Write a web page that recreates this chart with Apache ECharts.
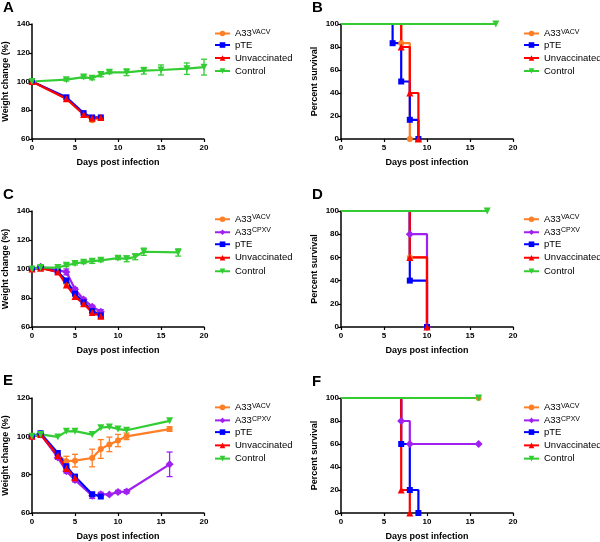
<!DOCTYPE html>
<html>
<head>
<meta charset="utf-8">
<title>Weight change and survival</title>
<script src="https://cdn.jsdelivr.net/npm/echarts@6/dist/echarts.min.js"></script>
<style>
  html, body { margin: 0; padding: 0; background: #fff; }
  #main { width: 600px; height: 542px; }
</style>
</head>
<body>
<div id="main"></div>
<script>
// ---- panel A: weight ----
var aDays = [0, 4, 6, 7, 8];
var aVacv = [100, 88, 77.5, 73, 75];
var aPte = [100, 89, 78, 75, 75];
var aUnvac = [100, 88, 77, 74.5, 75];
var aCtrlDays = [0, 4, 6, 7, 8, 9, 11, 13, 15, 18, 20];
var aCtrl = [100, 101.3, 103.1, 102.2, 104.8, 106.4, 106.4, 107.5, 108, 108.9, 110];
var aCtrlErr = [0, 1, 1, 1, 1.5, 1, 2.3, 2.3, 3.5, 4, 5.5];

// ---- panel B: survival ----
var bVacvX = [0, 7, 8], bVacvY = [100, 83.3, 0];
var bPteX = [0, 6, 7, 8, 9], bPteY = [100, 83.3, 50, 16.7, 0];
var bUnvacX = [0, 7, 8, 9], bUnvacY = [100, 80, 40, 0];
var bCtrlX = [0, 18], bCtrlY = [100, 100];

// ---- panel C: weight ----
var cDays = [0, 1, 3, 4, 5, 6, 7, 8];
var cVacv = [100, 101, 98.5, 90, 82, 77, 72, 68];
var cCpxv = [100, 101.5, 99, 98, 86, 79, 74, 70.5];
var cCpxvErr = [0, 0.5, 1, 2, 1, 1, 1, 1.5];
var cPte = [100, 101, 98, 92, 83, 77, 71, 68];
var cPteErr = [0, 0.5, 1, 1.5, 1, 1, 1, 2];
var cUnvac = [100, 100.5, 98, 89, 81, 76, 70, 67.5];
var cCtrlDays = [0, 1, 3, 4, 5, 6, 7, 8, 10, 11, 12, 13, 17];
var cCtrl = [100, 101, 101, 102.6, 103.8, 104.7, 105.4, 106, 107.5, 107, 108.4, 111.9, 111.4];
var cCtrlErr = [0, 1, 0.5, 1, 1, 1, 1.5, 1, 1, 2, 2, 2.5, 2.5];

// ---- panel D: survival ----
var dVacvX = [0, 8, 10], dVacvY = [100, 60, 0];
var dCpxvX = [0, 8, 10], dCpxvY = [100, 80, 0];
var dPteX = [0, 8, 10], dPteY = [100, 40, 0];
var dUnvacX = [0, 8, 10], dUnvacY = [100, 60, 0];
var dCtrlX = [0, 17], dCtrlY = [100, 100];

// ---- panel E: weight ----
var eDays = [0, 1, 3, 4, 5, 7, 8, 9, 10, 11, 16];
var eVacv = [100, 101, 90, 87, 87.3, 88.7, 93.4, 95.8, 97.8, 100, 103.8];
var eVacvErr = [0, 0.5, 1, 2.6, 3.3, 4.6, 4.9, 3.8, 3.2, 1.7, 1.2];
var eCpxv = [100, 101, 89, 81.8, 77.2, 69, 69.8, 69.6, 71, 71.2, 85.4];
var eCpxvErr = [0, 0.5, 1, 1, 1, 1.4, 1, 0.5, 0.8, 1, 6.4];
var ePteDays = [0, 1, 3, 4, 5, 7, 8];
var ePte = [100, 101.6, 91.3, 84.4, 79, 69.8, 68.6];
var eUnvacDays = [0, 1, 3, 4, 5];
var eUnvac = [100, 101, 90, 83.2, 78.4];
var eCtrl = [100, 101, 99.7, 102.6, 102.7, 100.9, 104.5, 104.9, 103.8, 103.2, 108.1];

// ---- panel F: survival ----
var fVacvX = [0, 16], fVacvY = [100, 100];
var fCpxvX = [0, 7, 8, 16], fCpxvY = [100, 80, 60, 60];
var fPteX = [0, 7, 8, 9], fPteY = [100, 60, 20, 0];
var fUnvacX = [0, 7, 8], fUnvacY = [100, 20, 0];
var fCtrlX = [0, 16], fCtrlY = [100, 100];

var legendAB = ['A33VACV', 'pTE', 'Unvaccinated', 'Control'];
var legendCF = ['A33VACV', 'A33CPXV', 'pTE', 'Unvaccinated', 'Control'];

var FONT = 'Liberation Sans, Arial, sans-serif';
var look = {
  'A33VACV': { color: '#ff7f27', symbol: 'circle', size: 6, rot: 0 },
  'A33CPXV': { color: '#a020f0', symbol: 'diamond', size: 8, rot: 0 },
  'pTE': { color: '#0000ff', symbol: 'rect', size: 6, rot: 0 },
  'Unvaccinated': { color: '#ff0000', symbol: 'triangle', size: 7, rot: 0 },
  'Control': { color: '#33cc33', symbol: 'triangle', size: 7, rot: 180 }
};

var grids = [
  { left: 31, top: 24, width: 173, height: 115 },
  { left: 341, top: 24, width: 172, height: 115 },
  { left: 31, top: 211, width: 173, height: 116 },
  { left: 341, top: 211, width: 172, height: 116 },
  { left: 31, top: 398, width: 173, height: 116 },
  { left: 341, top: 398, width: 172, height: 116 }
];

function xAx(gi) {
  return {
    type: 'value', gridIndex: gi, min: 0, max: 20, interval: 5,
    name: 'Days post infection', nameLocation: 'middle', nameGap: 19,
    nameTextStyle: { fontSize: 9, fontWeight: 'bold', color: '#000', fontFamily: FONT },
    axisLine: { show: true, onZero: false, lineStyle: { color: '#000', width: 1.5 } },
    axisTick: { show: true, length: 3, lineStyle: { color: '#000', width: 1.2 } },
    axisLabel: { fontSize: 8, fontWeight: 'bold', color: '#000', margin: 5, fontFamily: FONT },
    splitLine: { show: false }
  };
}
function yAx(gi, min, max, name) {
  return {
    type: 'value', gridIndex: gi, min: min, max: max, interval: 20,
    name: name, nameLocation: 'middle', nameGap: 22,
    nameTextStyle: { fontSize: 9, fontWeight: 'bold', color: '#000', fontFamily: FONT },
    axisLine: { show: true, onZero: false, lineStyle: { color: '#000', width: 1.5 } },
    axisTick: { show: true, length: 3, lineStyle: { color: '#000', width: 1.2 } },
    axisLabel: { fontSize: 8, fontWeight: 'bold', color: '#000', margin: 2, fontFamily: FONT },
    splitLine: { show: false }
  };
}

function pts(xs, ys, noFirst) {
  return xs.map(function (x, i) {
    if (noFirst && i === 0) return { value: [x, ys[i]], symbol: 'none' };
    return [x, ys[i]];
  });
}

function lineSeries(name, gi, xs, ys, step) {
  var l = look[name];
  return {
    name: name, type: 'line', xAxisIndex: gi, yAxisIndex: gi,
    data: pts(xs, ys, !!step), step: step ? 'end' : false,
    symbol: l.symbol, symbolSize: l.size, symbolRotate: l.rot, showSymbol: true,
    lineStyle: { color: l.color, width: 2.2 },
    itemStyle: { color: l.color },
    z: 3
  };
}

function renderErr(params, api) {
  var x = api.value(0), y = api.value(1), e = api.value(2);
  if (!e) return;
  var hi = api.coord([x, y + e]);
  var lo = api.coord([x, y - e]);
  var w = 3;
  var st = { stroke: api.visual('color'), lineWidth: 1.3 };
  return {
    type: 'group',
    children: [
      { type: 'line', shape: { x1: hi[0], y1: hi[1], x2: lo[0], y2: lo[1] }, style: st },
      { type: 'line', shape: { x1: hi[0] - w, y1: hi[1], x2: hi[0] + w, y2: hi[1] }, style: st },
      { type: 'line', shape: { x1: lo[0] - w, y1: lo[1], x2: lo[0] + w, y2: lo[1] }, style: st }
    ]
  };
}

function errSeries(name, gi, xs, ys, es) {
  return {
    type: 'custom', xAxisIndex: gi, yAxisIndex: gi,
    renderItem: renderErr,
    itemStyle: { color: look[name].color },
    encode: { x: 0, y: 1 },
    data: xs.map(function (x, i) { return [x, ys[i], es[i]]; }),
    z: 2, silent: true
  };
}

function legendAt(left, top, names, lh) {
  return {
    orient: 'vertical', left: left, top: top, data: names, padding: 0,
    itemWidth: 15, itemHeight: 7, itemGap: 0,
    formatter: function (n) {
      if (n.indexOf('A33') === 0) return '{b|A33}{s|' + n.slice(3) + '}';
      return '{n|' + n + '}';
    },
    textStyle: {
      fontFamily: FONT, fontSize: 9.5, color: '#000', lineHeight: lh,
      rich: {
        n: { fontSize: 9.5, lineHeight: lh, fontFamily: FONT },
        b: { fontSize: 9.5, lineHeight: lh - 3, padding: [3, 0, 0, 0], verticalAlign: 'bottom', fontFamily: FONT },
        s: { fontSize: 7, lineHeight: 7, verticalAlign: 'top', fontFamily: FONT }
      }
    },
    selectedMode: false
  };
}

var titles = [['A', 3, 0], ['B', 312, 0], ['C', 3, 187], ['D', 312, 187], ['E', 3, 373], ['F', 312, 374]].map(function (t) {
  return { text: t[0], left: t[1], top: t[2], padding: 0,
    textStyle: { fontSize: 15, fontWeight: 'bold', color: '#000', fontFamily: FONT } };
});

var series = [
  // A
  errSeries('Control', 0, aCtrlDays, aCtrl, aCtrlErr),
  lineSeries('A33VACV', 0, aDays, aVacv),
  lineSeries('pTE', 0, aDays, aPte),
  lineSeries('Unvaccinated', 0, aDays, aUnvac),
  lineSeries('Control', 0, aCtrlDays, aCtrl),
  // B
  lineSeries('A33VACV', 1, bVacvX, bVacvY, true),
  lineSeries('pTE', 1, bPteX, bPteY, true),
  lineSeries('Unvaccinated', 1, bUnvacX, bUnvacY, true),
  lineSeries('Control', 1, bCtrlX, bCtrlY, true),
  // C
  errSeries('A33CPXV', 2, cDays, cCpxv, cCpxvErr),
  errSeries('pTE', 2, cDays, cPte, cPteErr),
  errSeries('Control', 2, cCtrlDays, cCtrl, cCtrlErr),
  lineSeries('A33VACV', 2, cDays, cVacv),
  lineSeries('A33CPXV', 2, cDays, cCpxv),
  lineSeries('pTE', 2, cDays, cPte),
  lineSeries('Unvaccinated', 2, cDays, cUnvac),
  lineSeries('Control', 2, cCtrlDays, cCtrl),
  // D
  lineSeries('A33VACV', 3, dVacvX, dVacvY, true),
  lineSeries('A33CPXV', 3, dCpxvX, dCpxvY, true),
  lineSeries('pTE', 3, dPteX, dPteY, true),
  lineSeries('Unvaccinated', 3, dUnvacX, dUnvacY, true),
  lineSeries('Control', 3, dCtrlX, dCtrlY, true),
  // E
  errSeries('A33VACV', 4, eDays, eVacv, eVacvErr),
  errSeries('A33CPXV', 4, eDays, eCpxv, eCpxvErr),
  lineSeries('A33VACV', 4, eDays, eVacv),
  lineSeries('A33CPXV', 4, eDays, eCpxv),
  lineSeries('pTE', 4, ePteDays, ePte),
  lineSeries('Unvaccinated', 4, eUnvacDays, eUnvac),
  lineSeries('Control', 4, eDays, eCtrl),
  // F
  lineSeries('A33VACV', 5, fVacvX, fVacvY, true),
  lineSeries('A33CPXV', 5, fCpxvX, fCpxvY, true),
  lineSeries('pTE', 5, fPteX, fPteY, true),
  lineSeries('Unvaccinated', 5, fUnvacX, fUnvacY, true),
  lineSeries('Control', 5, fCtrlX, fCtrlY, true)
];

var option = {
  animation: false,
  backgroundColor: '#fff',
  title: titles,
  grid: grids,
  xAxis: [xAx(0), xAx(1), xAx(2), xAx(3), xAx(4), xAx(5)],
  yAxis: [
    yAx(0, 60, 140, 'Weight change (%)'),
    yAx(1, 0, 100, 'Percent survival'),
    yAx(2, 60, 140, 'Weight change (%)'),
    yAx(3, 0, 100, 'Percent survival'),
    yAx(4, 60, 120, 'Weight change (%)'),
    yAx(5, 0, 100, 'Percent survival')
  ],
  legend: [
    legendAt(214, 25.5, legendAB, 13),
    legendAt(523, 25.5, legendAB, 13),
    legendAt(214, 211.5, legendCF, 13.5),
    legendAt(523, 211.5, legendCF, 13.5),
    legendAt(214, 399.5, legendCF, 13.25),
    legendAt(523, 399.5, legendCF, 13.25)
  ],
  series: series
};

var myChart = echarts.init(document.getElementById('main'));
myChart.setOption(option);
</script>
</body>
</html>
